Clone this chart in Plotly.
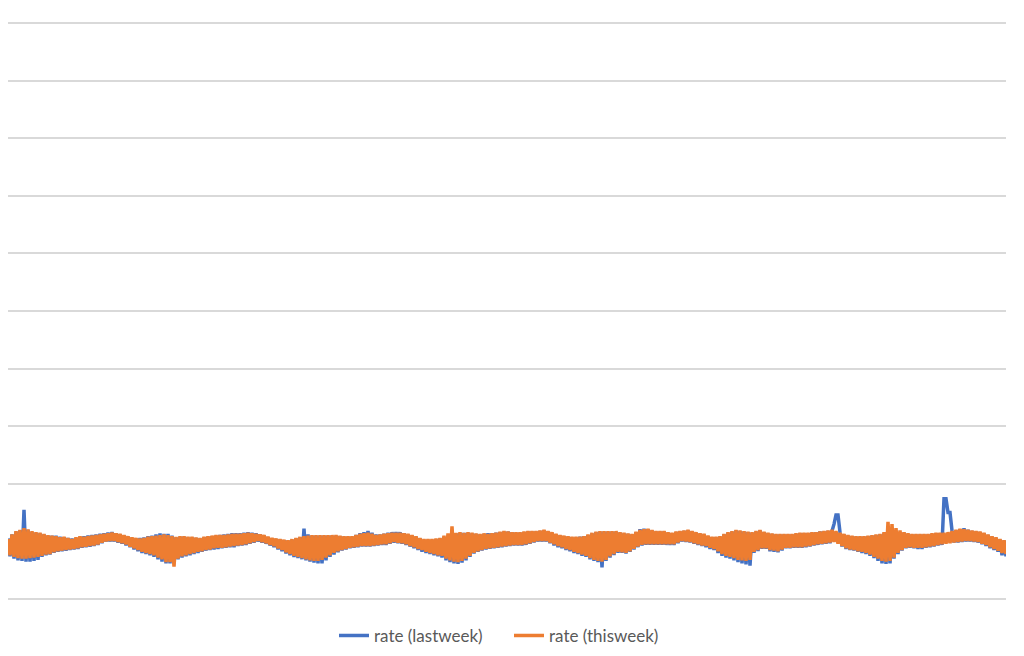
import plotly.graph_objects as go

series_names = ["rate (lastweek)", "rate (thisweek)"]

# values (one row = 20 samples), chart units with gridlines at 0..10
rate_lastweek = [
    1.05, 0.74, 1.12, 0.70, 1.17, 0.67, 1.19, 0.66, 1.55, 0.65, 1.20, 0.65, 1.16, 0.66, 1.15, 0.68, 1.14, 0.73, 1.12, 0.76,
    1.10, 0.77, 1.10, 0.80, 1.10, 0.82, 1.08, 0.83, 1.07, 0.84, 1.06, 0.85, 1.05, 0.86, 1.06, 0.87, 1.08, 0.89, 1.09, 0.90,
    1.10, 0.91, 1.11, 0.92, 1.12, 0.94, 1.13, 0.97, 1.14, 1.00, 1.15, 1.00, 1.16, 1.00, 1.14, 0.98, 1.12, 0.96, 1.10, 0.93,
    1.08, 0.90, 1.06, 0.86, 1.05, 0.83, 1.06, 0.80, 1.07, 0.78, 1.09, 0.76, 1.10, 0.73, 1.12, 0.69, 1.14, 0.65, 1.13, 0.62,
    1.13, 0.62, 1.10, 0.64, 1.07, 0.69, 1.08, 0.72, 1.08, 0.74, 1.07, 0.76, 1.07, 0.78, 1.06, 0.80, 1.05, 0.82, 1.07, 0.84,
    1.08, 0.85, 1.09, 0.86, 1.10, 0.87, 1.11, 0.88, 1.12, 0.89, 1.13, 0.90, 1.14, 0.90, 1.14, 0.92, 1.14, 0.93, 1.15, 0.94,
    1.16, 0.96, 1.15, 0.98, 1.14, 1.00, 1.12, 0.98, 1.10, 0.96, 1.07, 0.93, 1.05, 0.90, 1.04, 0.86, 1.03, 0.83, 1.02, 0.79,
    1.01, 0.76, 1.03, 0.73, 1.05, 0.71, 1.07, 0.69, 1.22, 0.67, 1.12, 0.65, 1.10, 0.63, 1.10, 0.62, 1.10, 0.62, 1.10, 0.67,
    1.10, 0.73, 1.10, 0.77, 1.10, 0.81, 1.09, 0.84, 1.08, 0.86, 1.08, 0.88, 1.08, 0.89, 1.11, 0.90, 1.14, 0.91, 1.16, 0.91,
    1.18, 0.91, 1.15, 0.92, 1.12, 0.93, 1.12, 0.94, 1.13, 0.94, 1.15, 0.96, 1.16, 0.98, 1.16, 0.97, 1.16, 0.96, 1.14, 0.94,
    1.12, 0.91, 1.10, 0.88, 1.08, 0.85, 1.05, 0.82, 1.03, 0.80, 1.03, 0.78, 1.03, 0.76, 1.04, 0.74, 1.05, 0.72, 1.08, 0.67,
    1.10, 0.64, 1.12, 0.62, 1.14, 0.61, 1.15, 0.63, 1.15, 0.67, 1.15, 0.73, 1.14, 0.79, 1.13, 0.82, 1.12, 0.84, 1.13, 0.86,
    1.14, 0.87, 1.14, 0.88, 1.15, 0.89, 1.16, 0.90, 1.17, 0.91, 1.17, 0.92, 1.16, 0.93, 1.15, 0.93, 1.15, 0.93, 1.16, 0.94,
    1.17, 0.96, 1.17, 0.98, 1.17, 1.00, 1.18, 1.00, 1.19, 1.00, 1.17, 0.97, 1.15, 0.93, 1.12, 0.90, 1.10, 0.88, 1.09, 0.85,
    1.08, 0.83, 1.07, 0.80, 1.07, 0.78, 1.08, 0.75, 1.09, 0.73, 1.11, 0.69, 1.14, 0.66, 1.16, 0.64, 1.17, 0.55, 1.17, 0.66,
    1.17, 0.72, 1.17, 0.76, 1.17, 0.80, 1.15, 0.80, 1.14, 0.79, 1.13, 0.82, 1.12, 0.86, 1.16, 0.90, 1.21, 0.93, 1.22, 0.94,
    1.21, 0.94, 1.19, 0.94, 1.17, 0.94, 1.17, 0.94, 1.17, 0.94, 1.15, 0.94, 1.14, 0.94, 1.16, 0.97, 1.17, 1.00, 1.18, 0.99,
    1.19, 0.98, 1.17, 0.96, 1.15, 0.94, 1.13, 0.92, 1.12, 0.90, 1.09, 0.87, 1.07, 0.85, 1.07, 0.80, 1.08, 0.75, 1.12, 0.72,
    1.15, 0.70, 1.17, 0.67, 1.19, 0.64, 1.18, 0.62, 1.17, 0.60, 1.16, 0.58, 1.15, 0.80, 1.17, 0.83, 1.19, 0.87, 1.16, 0.87,
    1.14, 0.83, 1.13, 0.82, 1.12, 0.81, 1.12, 0.84, 1.12, 0.88, 1.12, 0.88, 1.12, 0.89, 1.13, 0.89, 1.14, 0.89, 1.14, 0.90,
    1.14, 0.91, 1.15, 0.93, 1.16, 0.94, 1.17, 0.95, 1.17, 0.96, 1.18, 0.97, 1.18, 1.30, 1.46, 1.46, 1.16, 0.91, 1.12, 0.87,
    1.10, 0.85, 1.09, 0.84, 1.08, 0.82, 1.08, 0.80, 1.08, 0.78, 1.09, 0.75, 1.10, 0.71, 1.11, 0.66, 1.12, 0.62, 1.14, 0.61,
    1.20, 0.62, 1.18, 0.70, 1.17, 0.78, 1.16, 0.84, 1.15, 0.88, 1.13, 0.89, 1.12, 0.88, 1.12, 0.87, 1.12, 0.87, 1.12, 0.89,
    1.12, 0.90, 1.13, 0.91, 1.14, 0.93, 1.14, 0.94, 1.74, 1.74, 1.50, 1.50, 1.19, 0.98, 1.19, 0.98, 1.21, 0.99, 1.23, 1.00,
    1.20, 1.00, 1.18, 0.99, 1.17, 0.98, 1.16, 0.95, 1.14, 0.92, 1.11, 0.88, 1.08, 0.85, 1.06, 0.82, 1.03, 0.76, 1.01, 0.74,
]

rate_thisweek = [
    1.04, 0.76, 1.12, 0.73, 1.18, 0.71, 1.20, 0.70, 1.23, 0.70, 1.21, 0.71, 1.18, 0.72, 1.16, 0.73, 1.15, 0.75, 1.13, 0.77,
    1.11, 0.78, 1.10, 0.81, 1.09, 0.83, 1.07, 0.84, 1.08, 0.85, 1.06, 0.86, 1.04, 0.87, 1.07, 0.88, 1.09, 0.90, 1.08, 0.91,
    1.09, 0.92, 1.10, 0.93, 1.11, 0.95, 1.12, 0.98, 1.13, 1.00, 1.14, 1.01, 1.15, 1.01, 1.14, 0.99, 1.13, 0.97, 1.11, 0.95,
    1.09, 0.91, 1.07, 0.88, 1.06, 0.85, 1.05, 0.82, 1.06, 0.80, 1.08, 0.78, 1.09, 0.76, 1.10, 0.72, 1.11, 0.69, 1.12, 0.64,
    1.11, 0.64, 1.09, 0.56, 1.08, 0.70, 1.09, 0.74, 1.09, 0.76, 1.08, 0.78, 1.08, 0.80, 1.07, 0.82, 1.06, 0.83, 1.08, 0.85,
    1.09, 0.86, 1.10, 0.88, 1.11, 0.89, 1.11, 0.89, 1.11, 0.90, 1.12, 0.91, 1.13, 0.92, 1.13, 0.93, 1.13, 0.94, 1.14, 0.95,
    1.15, 0.97, 1.14, 0.99, 1.13, 1.01, 1.12, 0.99, 1.11, 0.97, 1.08, 0.94, 1.06, 0.92, 1.05, 0.88, 1.04, 0.85, 1.03, 0.81,
    1.02, 0.78, 1.04, 0.75, 1.06, 0.73, 1.08, 0.71, 1.09, 0.69, 1.10, 0.67, 1.11, 0.66, 1.11, 0.66, 1.11, 0.68, 1.11, 0.72,
    1.11, 0.76, 1.11, 0.80, 1.11, 0.83, 1.10, 0.85, 1.09, 0.87, 1.09, 0.89, 1.09, 0.90, 1.11, 0.91, 1.13, 0.92, 1.14, 0.92,
    1.15, 0.92, 1.13, 0.93, 1.11, 0.94, 1.12, 0.95, 1.13, 0.95, 1.14, 0.97, 1.15, 0.99, 1.15, 0.98, 1.15, 0.97, 1.14, 0.95,
    1.13, 0.92, 1.11, 0.90, 1.09, 0.87, 1.06, 0.85, 1.04, 0.82, 1.04, 0.80, 1.04, 0.78, 1.05, 0.76, 1.06, 0.75, 1.10, 0.70,
    1.14, 0.67, 1.26, 0.65, 1.15, 0.64, 1.16, 0.66, 1.15, 0.70, 1.16, 0.75, 1.15, 0.80, 1.14, 0.83, 1.13, 0.85, 1.14, 0.87,
    1.13, 0.88, 1.14, 0.89, 1.15, 0.90, 1.17, 0.91, 1.18, 0.92, 1.17, 0.93, 1.16, 0.94, 1.16, 0.94, 1.16, 0.94, 1.17, 0.95,
    1.18, 0.97, 1.18, 0.99, 1.18, 1.01, 1.19, 1.01, 1.20, 1.01, 1.18, 0.98, 1.16, 0.95, 1.13, 0.92, 1.11, 0.90, 1.10, 0.87,
    1.09, 0.85, 1.08, 0.82, 1.08, 0.80, 1.08, 0.77, 1.09, 0.75, 1.12, 0.71, 1.15, 0.68, 1.17, 0.66, 1.18, 0.65, 1.18, 0.68,
    1.18, 0.74, 1.18, 0.78, 1.18, 0.82, 1.16, 0.81, 1.15, 0.80, 1.14, 0.83, 1.13, 0.87, 1.17, 0.91, 1.20, 0.94, 1.21, 0.95,
    1.22, 0.95, 1.20, 0.95, 1.18, 0.95, 1.18, 0.95, 1.18, 0.95, 1.16, 0.95, 1.15, 0.95, 1.17, 0.98, 1.18, 1.01, 1.19, 1.00,
    1.20, 0.99, 1.18, 0.97, 1.16, 0.95, 1.14, 0.93, 1.13, 0.92, 1.10, 0.89, 1.08, 0.87, 1.08, 0.83, 1.09, 0.78, 1.13, 0.75,
    1.16, 0.73, 1.18, 0.71, 1.20, 0.68, 1.19, 0.67, 1.18, 0.66, 1.17, 0.68, 1.16, 0.82, 1.18, 0.85, 1.20, 0.88, 1.17, 0.88,
    1.15, 0.85, 1.14, 0.84, 1.13, 0.83, 1.13, 0.86, 1.13, 0.89, 1.13, 0.89, 1.13, 0.90, 1.14, 0.90, 1.15, 0.90, 1.15, 0.91,
    1.15, 0.92, 1.16, 0.94, 1.16, 0.95, 1.17, 0.96, 1.18, 0.97, 1.19, 0.98, 1.20, 0.99, 1.18, 0.96, 1.15, 0.92, 1.13, 0.88,
    1.11, 0.86, 1.10, 0.85, 1.09, 0.83, 1.09, 0.82, 1.09, 0.80, 1.10, 0.77, 1.11, 0.73, 1.12, 0.70, 1.13, 0.66, 1.16, 0.65,
    1.34, 0.66, 1.30, 0.72, 1.23, 0.80, 1.19, 0.85, 1.16, 0.89, 1.14, 0.90, 1.13, 0.89, 1.13, 0.89, 1.13, 0.89, 1.13, 0.90,
    1.13, 0.91, 1.14, 0.92, 1.15, 0.94, 1.15, 0.95, 1.15, 0.96, 1.16, 0.97, 1.18, 0.98, 1.20, 0.99, 1.22, 1.00, 1.21, 1.01,
    1.20, 1.01, 1.19, 1.00, 1.18, 0.99, 1.17, 0.96, 1.15, 0.94, 1.12, 0.90, 1.09, 0.87, 1.07, 0.84, 1.04, 0.80, 1.02, 0.78,
]

sample_index = list(range(len(rate_thisweek)))

colors = ["#4472C4", "#ED7D31"]

fig = go.Figure()
for name, vals, col in zip(series_names, [rate_lastweek, rate_thisweek], colors):
    fig.add_trace(go.Scatter(
        x=sample_index, y=vals, mode="lines", name=name,
        line=dict(color=col, width=3.5, simplify=False),
    ))

# the page body has an 8px margin, so the figure is 1016x648 placed at (8, 8)
fig.update_layout(
    width=1016, height=648,
    margin=dict(l=0, r=18, t=10, b=52),
    paper_bgcolor="white", plot_bgcolor="white",
    showlegend=True,
    legend=dict(orientation="h", x=0.502, xanchor="center", y=-0.0545, yanchor="middle",
                font=dict(family="Lato, Open Sans, sans-serif", size=17, color="#595959"),
                itemwidth=30, entrywidth=130, tracegroupgap=0),
    font=dict(family="Lato, Open Sans, sans-serif", color="#595959"),
)
fig.update_xaxes(range=[0, len(sample_index) - 1], showgrid=False, zeroline=False,
                 showticklabels=False, showline=False, ticks="")
fig.update_yaxes(range=[-0.0868, 10.0868], tick0=0, dtick=1, showgrid=True,
                 gridcolor="#D9D9D9", gridwidth=1.5,
                 zeroline=False, showticklabels=False, showline=False, ticks="")

fig.write_html("out.html")
